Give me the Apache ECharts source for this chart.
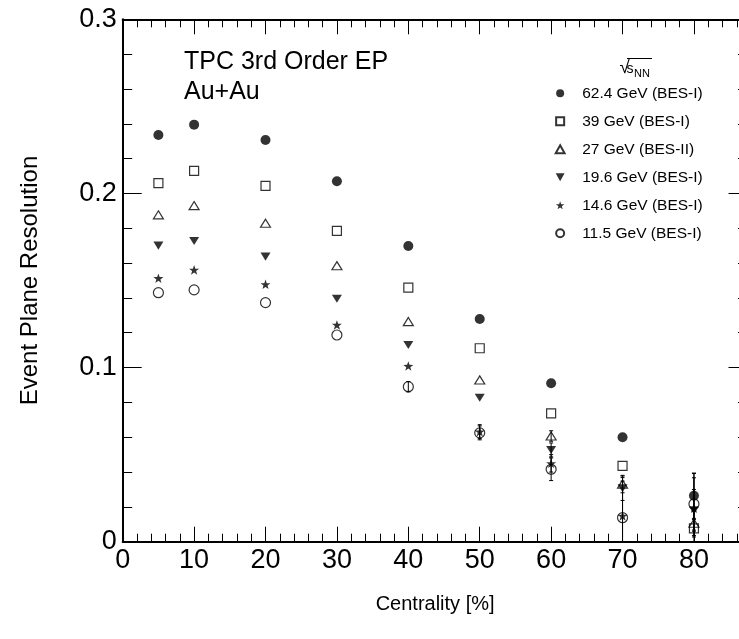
<!DOCTYPE html>
<html>
<head>
<meta charset="utf-8">
<script src="https://cdn.jsdelivr.net/npm/echarts@6/dist/echarts.min.js"></script>
<style>
  html, body { margin: 0; padding: 0; background: #fff; }
  #chart { width: 739px; height: 639px; }
</style>
</head>
<body>
<div id="chart"></div>
<script>
// Centrality bins (%) shared by every beam energy
const centrality = [5, 10, 20, 30, 40, 50, 60, 70, 80];

// Legend entries, one per collision energy
const energyLabels = [
  '62.4 GeV (BES-I)',
  '39 GeV (BES-I)',
  '27 GeV (BES-II)',
  '19.6 GeV (BES-I)',
  '14.6 GeV (BES-I)',
  '11.5 GeV (BES-I)'
];

// Third-order event plane resolution and its uncertainty
const res624 = [0.2336, 0.2395, 0.2307, 0.2070, 0.1698, 0.1279, 0.0910, 0.0600, 0.0264];
const err624 = [0, 0, 0, 0, 0, 0, 0, 0, 0.013];
const res39  = [0.2059, 0.2129, 0.2043, 0.1785, 0.1459, 0.1111, 0.0737, 0.0435, 0.0077];
const err39  = [0, 0, 0, 0, 0, 0, 0, 0, 0.005];
const res27  = [0.1877, 0.1930, 0.1829, 0.1585, 0.1264, 0.0929, 0.0607, 0.0331, 0.0106];
const err27  = [0, 0, 0, 0, 0, 0, 0.003, 0.005, 0.007];
const res196 = [0.1700, 0.1727, 0.1637, 0.1395, 0.1130, 0.0827, 0.0527, 0.0307, 0.0180];
const err196 = [0, 0, 0, 0, 0, 0, 0.004, 0.007, 0.012];
const res146 = [0.1513, 0.1561, 0.1478, 0.1245, 0.1009, 0.0632, 0.0450, 0.0148, 0.0192];
const err146 = [0, 0, 0, 0, 0, 0.004, 0.005, 0.020, 0.020];
const res115 = [0.1430, 0.1446, 0.1373, 0.1187, 0.0890, 0.0625, 0.0416, 0.0138, 0.0217];
const err115 = [0, 0, 0, 0, 0.003, 0.004, 0.0065, 0.023, 0.015];

// Axis tick labels
const xTickLabels = [0, 10, 20, 30, 40, 50, 60, 70, 80];
const yTickLabels = [0, 0.1, 0.2, 0.3];

const FONT = '"Liberation Sans", Arial, Helvetica, sans-serif';
const BLACK = '#000';
const HOLLOW = 'rgba(0,0,0,0)';

// Marker shapes
const SQUARE = 'path://M0,0L10,0L10,10L0,10Z';
const TRIANGLE_UP = 'path://M5,0L10,9L0,9Z';
const TRIANGLE_DOWN = 'path://M0,0L10,0L5,9Z';
const STAR = 'path://M0,-10L2.35,-3.24L9.51,-3.09L3.8,1.24L5.88,8.09L0,4L-5.88,8.09L-3.8,1.24L-9.51,-3.09L-2.35,-3.24Z';

const sets = [
  { name: energyLabels[0], values: res624, errors: err624, symbol: 'circle',      size: 10,      open: false },
  { name: energyLabels[1], values: res39,  errors: err39,  symbol: SQUARE,        size: 9,       open: true  },
  { name: energyLabels[2], values: res27,  errors: err27,  symbol: TRIANGLE_UP,   size: [10, 9], open: true  },
  { name: energyLabels[3], values: res196, errors: err196, symbol: TRIANGLE_DOWN, size: [10, 9], open: false },
  { name: energyLabels[4], values: res146, errors: err146, symbol: STAR,          size: 10,      open: false },
  { name: energyLabels[5], values: res115, errors: err115, symbol: 'circle',      size: 10,      open: true  }
];

// Vertical error bar with short end caps, kept inside the frame
function renderErrorBar(params, api) {
  const x = api.value(0), v = api.value(1), e = api.value(2);
  if (!(e > 0)) return null;
  const cs = params.coordSys;
  const hi = api.coord([x, v + e]);
  const lo = api.coord([x, v - e]);
  const yTop = Math.max(hi[1], cs.y);
  const yBot = Math.min(lo[1], cs.y + cs.height);
  const style = { stroke: BLACK, lineWidth: 1 };
  const children = [
    { type: 'line', shape: { x1: hi[0], y1: yTop, x2: hi[0], y2: yBot }, style }
  ];
  if (hi[1] >= cs.y) {
    children.push({ type: 'line', shape: { x1: hi[0] - 2, y1: hi[1], x2: hi[0] + 2, y2: hi[1] }, style });
  }
  if (lo[1] <= cs.y + cs.height) {
    children.push({ type: 'line', shape: { x1: lo[0] - 2, y1: lo[1], x2: lo[0] + 2, y2: lo[1] }, style });
  }
  return { type: 'group', children };
}

const errorSeries = sets.map((s, k) => ({
  type: 'custom',
  name: 'err' + k,
  xAxisIndex: 0,
  yAxisIndex: 0,
  z: 1,
  renderItem: renderErrorBar,
  data: centrality.map((c, i) => [c, s.values[i], s.errors[i]]),
  silent: true
}));

const markerSeries = sets.map(s => ({
  type: 'scatter',
  name: s.name,
  xAxisIndex: 0,
  yAxisIndex: 0,
  z: 3,
  symbol: s.symbol,
  symbolSize: s.size,
  symbolKeepAspect: true,
  itemStyle: s.open
    ? { color: HOLLOW, borderColor: BLACK, borderWidth: 1.2 }
    : { color: BLACK, borderWidth: 0 },
  emphasis: { disabled: true },
  data: centrality.map((c, i) => [c, s.values[i]])
}));

const xRange = { min: 0, max: 87.5, interval: 10 };
const yRange = { min: 0, max: 0.3, interval: 0.1 };

const frameLine = { show: true, onZero: false, lineStyle: { color: BLACK, width: 2 } };
const xMajor = { show: true, inside: true, length: 15, lineStyle: { color: BLACK, width: 1 } };
const xMinor = { show: true, splitNumber: 5, length: 8, lineStyle: { color: BLACK, width: 1 } };
const yMajor = { show: true, inside: true, length: 19, lineStyle: { color: BLACK, width: 1 } };
const yMinor = { show: true, splitNumber: 5, length: 9.5, lineStyle: { color: BLACK, width: 1 } };

const option = {
  animation: false,
  backgroundColor: '#fff',
  grid: {
    left: 122.7, top: 19.3, width: 624.8, height: 522.4,
    containLabel: false, outerBoundsMode: 'none'
  },
  xAxis: [
    {
      type: 'value', position: 'bottom', ...xRange,
      axisLine: frameLine, axisTick: xMajor, minorTick: xMinor,
      splitLine: { show: false }, minorSplitLine: { show: false },
      axisLabel: {
        margin: 5, fontSize: 27, color: BLACK, fontFamily: FONT,
        formatter: v => (xTickLabels.indexOf(v) >= 0 ? String(v) : '')
      },
      name: 'Centrality [%]', nameLocation: 'middle', nameGap: 53,
      nameTextStyle: { fontSize: 20, color: BLACK, fontFamily: FONT }
    },
    {
      type: 'value', position: 'top', ...xRange,
      axisLine: frameLine, axisTick: xMajor, minorTick: xMinor,
      splitLine: { show: false }, axisLabel: { show: false }
    }
  ],
  yAxis: [
    {
      type: 'value', position: 'left', ...yRange,
      axisLine: frameLine, axisTick: yMajor, minorTick: yMinor,
      splitLine: { show: false }, minorSplitLine: { show: false },
      axisLabel: {
        margin: 6, fontSize: 27, color: BLACK, fontFamily: FONT,
        formatter: v => {
          const hit = yTickLabels.find(t => Math.abs(t - v) < 1e-9);
          return hit === undefined ? '' : String(hit);
        }
      },
      name: 'Event Plane Resolution', nameLocation: 'middle', nameGap: 80, nameRotate: 90,
      nameTextStyle: { fontSize: 24, color: BLACK, fontFamily: FONT }
    },
    {
      type: 'value', position: 'right', ...yRange,
      axisLine: frameLine, axisTick: yMajor, minorTick: yMinor,
      splitLine: { show: false }, axisLabel: { show: false }
    }
  ],
  legend: {
    data: energyLabels,
    orient: 'vertical',
    left: 554.7,
    top: 85.3,
    padding: 0,
    itemWidth: 34,
    itemHeight: 8,
    itemGap: 12,
    selectedMode: false,
    symbolKeepAspect: true,
    textStyle: { fontFamily: FONT, fontSize: 15.5, color: BLACK, lineHeight: 16 }
  },
  graphic: [
    { type: 'text', x: 184, y: 62, style: { text: 'TPC 3rd Order EP', fontFamily: FONT, fontSize: 25, fill: BLACK, align: 'left', verticalAlign: 'middle' } },
    { type: 'text', x: 184, y: 92, style: { text: 'Au+Au', fontFamily: FONT, fontSize: 25, fill: BLACK, align: 'left', verticalAlign: 'middle' } },
    { type: 'text', x: 619.5, y: 67.5, style: { text: '\u221A', fontFamily: FONT, fontSize: 19, fill: BLACK, align: 'left', verticalAlign: 'middle' } },
    { type: 'line', shape: { x1: 627, y1: 58.5, x2: 652, y2: 58.5 }, style: { stroke: BLACK, lineWidth: 1 } },
    { type: 'text', x: 626.5, y: 69.5, style: { text: 's', fontFamily: FONT, fontSize: 14, fill: BLACK, align: 'left', verticalAlign: 'middle' } },
    { type: 'text', x: 634, y: 73.5, style: { text: 'NN', fontFamily: FONT, fontSize: 11, fill: BLACK, align: 'left', verticalAlign: 'middle' } }
  ],
  series: errorSeries.concat(markerSeries)
};

const chart = echarts.init(document.getElementById('chart'), null, { renderer: 'canvas' });
chart.setOption(option);
</script>
</body>
</html>
